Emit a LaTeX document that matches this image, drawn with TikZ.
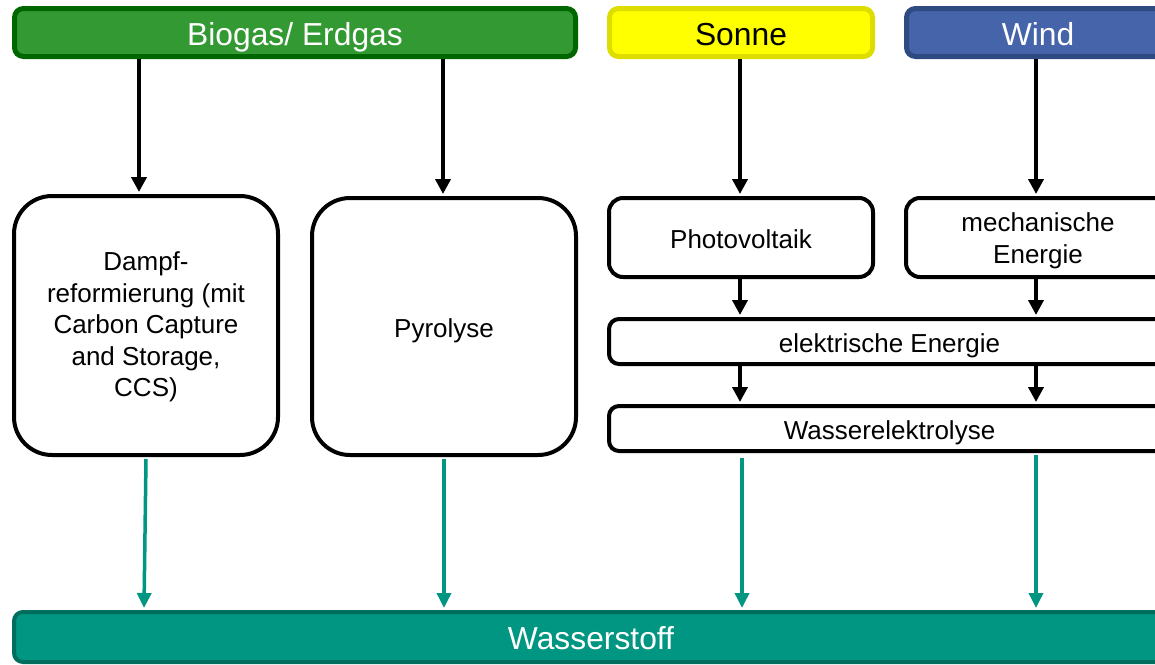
\documentclass[tikz,border=0pt]{standalone}
\usepackage{fontspec}
\setmainfont{Liberation Sans}
\usetikzlibrary{arrows.meta}
\definecolor{bioF}{HTML}{339933}
\definecolor{bioD}{HTML}{006600}
\definecolor{sunF}{HTML}{FFFF00}
\definecolor{sunD}{HTML}{DDDD00}
\definecolor{windF}{HTML}{4664AA}
\definecolor{windD}{HTML}{2F4A80}
\definecolor{h2F}{HTML}{009682}
\definecolor{h2D}{HTML}{006E5E}
\newcommand\mltext[2]{\raisebox{-#1pt}[\height][\depth]{\begin{tabular}{@{}c@{}}#2\end{tabular}}}
\tikzset{
  srcbox/.style={draw, line width=5pt, rounded corners=9pt, inner sep=0pt,
    text height=25pt, text depth=0pt, font=\fontsize{31.8}{38}\selectfont},
  procbox/.style={draw=black, line width=4pt, fill=white, inner sep=0pt,
    font=\fontsize{26}{31.5}\selectfont},
  oneline/.style={text height=21pt, text depth=0pt},
  blkarrow/.style={line width=4pt, -{Triangle[width=15pt,length=15pt]}},
  tealarrow/.style={draw=h2F, line width=3.5pt, -{Triangle[width=14pt,length=15pt]}, color=h2F},
}
\begin{document}
\begin{tikzpicture}[x=1pt,y=-1pt]
\useasboundingbox (0,0) rectangle (1155,664);
\clip (0,0) rectangle (1155,664);
% source boxes
\node[srcbox, draw=bioD, fill=bioF, text=white, minimum width=561pt, minimum height=48pt] (bio) at (295,32.5) {Biogas/ Erdgas};
\node[srcbox, draw=sunD, fill=sunF, text=black, minimum width=263pt, minimum height=48pt] (sun) at (741,32.5) {Sonne};
\node[srcbox, draw=windD, fill=windF, text=white, minimum width=263pt, minimum height=48pt] (wind) at (1038,32.5) {Wind};
% process boxes
\node[procbox, rounded corners=38pt, minimum width=264pt, minimum height=259pt] (damp) at (146,325.5)
  {\mltext{2}{Dampf-\\reformierung (mit\\Carbon Capture\\and Storage,\\CCS)}};
\node[procbox, oneline, rounded corners=38pt, minimum width=264pt, minimum height=257pt] (pyro) at (444,326.5) {Pyrolyse};
\node[procbox, oneline, rounded corners=14pt, minimum width=264pt, minimum height=79pt] (pv) at (741,237.5) {Photovoltaik};
\node[procbox, rounded corners=14pt, minimum width=264pt, minimum height=79pt] (mech) at (1038,237.5) {\mltext{3.5}{mechanische\\Energie}};
\node[procbox, oneline, rounded corners=10pt, minimum width=561pt, minimum height=45pt] (elek) at (889.5,341.5) {elektrische Energie};
\node[procbox, oneline, rounded corners=10pt, minimum width=561pt, minimum height=45pt] (wel) at (889.5,428.5) {Wasserelektrolyse};
% hydrogen
\node[draw=h2D, fill=h2F, line width=4pt, rounded corners=9pt, inner sep=0pt, text=white,
  text height=25pt, text depth=0pt,
  font=\fontsize{31.8}{38}\selectfont, minimum width=1154pt, minimum height=50pt] (h2) at (591,637) {Wasserstoff};
% black arrows
\draw[blkarrow] (bio.south -| 139,0) -- ([yshift=2pt]damp.north -| 139,0);
\draw[blkarrow] (bio.south -| 443,0) -- ([yshift=2pt]pyro.north -| 443,0);
\draw[blkarrow] (sun.south -| 740,0) -- ([yshift=2pt]pv.north -| 740,0);
\draw[blkarrow] (wind.south -| 1036,0) -- ([yshift=2pt]mech.north -| 1036,0);
\draw[blkarrow] (pv.south -| 740,0) -- ([yshift=2pt]elek.north -| 740,0);
\draw[blkarrow] (mech.south -| 1036,0) -- ([yshift=2pt]elek.north -| 1036,0);
\draw[blkarrow] (elek.south -| 740,0) -- ([yshift=2pt]wel.north -| 740,0);
\draw[blkarrow] (elek.south -| 1036,0) -- ([yshift=2pt]wel.north -| 1036,0);
% teal arrows
\coordinate (t1) at ([yshift=-2pt]damp.south);
\draw[tealarrow] (t1) -- ([yshift=2pt]h2.north -| 144,0);
\draw[tealarrow] ([yshift=-2pt]pyro.south) -- ([yshift=2pt]h2.north -| 444,0);
\draw[tealarrow] ([yshift=-5pt]wel.south -| 742,0) -- ([yshift=2pt]h2.north -| 742,0);
\draw[tealarrow] ([yshift=-2pt]wel.south -| 1036,0) -- ([yshift=2pt]h2.north -| 1036,0);
\end{tikzpicture}
\end{document}
